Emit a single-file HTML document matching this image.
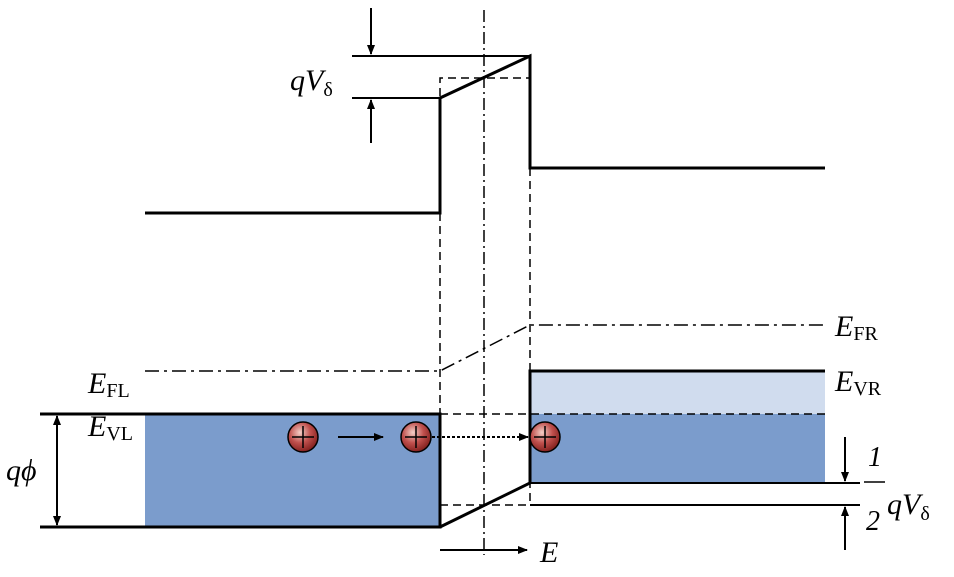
<!DOCTYPE html>
<html><head><style>body{margin:0;background:#fff}svg{display:block}text{font-family:"Liberation Serif",serif;font-style:italic}</style></head><body>
<svg width="954" height="577" viewBox="0 0 954 577" xmlns="http://www.w3.org/2000/svg">
<defs>
<marker id="a" markerWidth="10" markerHeight="8" refX="9" refY="4" orient="auto" markerUnits="userSpaceOnUse"><path d="M0,0 L10,4 L0,8 z" fill="#000"/></marker>
<radialGradient id="g" cx="0.4" cy="0.35" r="0.7"><stop offset="0" stop-color="#f4d0c8"/><stop offset="0.5" stop-color="#c0504d"/><stop offset="1" stop-color="#7a1a18"/></radialGradient>
</defs>
<!-- fills -->
<rect x="145" y="414" width="295" height="113" fill="#7b9ccc"/>
<rect x="530" y="371" width="295" height="43" fill="#d0dcee"/>
<rect x="530" y="414" width="295" height="69" fill="#7b9ccc"/>
<!-- dash-dot vertical -->
<line x1="484" y1="10" x2="484" y2="555" stroke="#000" stroke-width="1.5" stroke-dasharray="12,4,2,4"/>
<!-- dashed -->
<g stroke="#000" stroke-width="1.5" stroke-dasharray="8,5" fill="none">
<polyline points="440,213 440,78 530,78"/>
<line x1="440" y1="213" x2="440" y2="505"/>
<line x1="530" y1="168" x2="530" y2="505"/>
<line x1="440" y1="505" x2="530" y2="505"/>
<line x1="440" y1="414" x2="825" y2="414"/>
</g>
<g stroke="#000" stroke-width="1.5" stroke-dasharray="14,5,3,5" fill="none">
<polyline points="145,371 440,371 530,325 825,325"/>
</g>
<!-- solid thick -->
<g stroke="#000" stroke-width="3" fill="none">
<polyline points="145,213 440,213 440,98 530,56 530,168 825,168"/>
<polyline points="40,414 440,414 440,527 40,527"/>
<polyline points="440,527 530,483 530,371 825,371"/>
</g>
<g stroke="#000" stroke-width="2" fill="none">
<line x1="352" y1="56" x2="530" y2="56"/>
<line x1="352" y1="98" x2="440" y2="98"/>
<line x1="530" y1="483" x2="860" y2="483"/>
<line x1="530" y1="505" x2="860" y2="505"/>
<line x1="371" y1="8" x2="371" y2="54" marker-end="url(#a)"/>
<line x1="371" y1="143" x2="371" y2="100" marker-end="url(#a)"/>
<line x1="845" y1="437" x2="845" y2="481" marker-end="url(#a)"/>
<line x1="845" y1="550" x2="845" y2="507" marker-end="url(#a)"/>
<line x1="57" y1="470" x2="57" y2="416" marker-end="url(#a)"/>
<line x1="57" y1="470" x2="57" y2="525" marker-end="url(#a)"/>
<line x1="338" y1="437" x2="383" y2="437" marker-end="url(#a)"/>
<line x1="440" y1="550" x2="527" y2="550" marker-end="url(#a)"/>
<line x1="432" y1="437" x2="528" y2="437" stroke-dasharray="3,2" marker-end="url(#a)"/>
</g>
<!-- charges -->
<g stroke="#000" stroke-width="1.5">
<circle cx="303" cy="437" r="15" fill="url(#g)"/><path d="M292,437 H314 M303,426 V448"/>
<circle cx="416" cy="437" r="15" fill="url(#g)"/><path d="M405,437 H427 M416,426 V448"/>
<circle cx="545" cy="437" r="15" fill="url(#g)"/><path d="M534,437 H556 M545,426 V448"/>
</g>
<!-- labels -->
<text x="290" y="90" font-size="30">qV<tspan font-size="20" font-style="normal" dy="6">δ</tspan></text>
<text x="835" y="336" font-size="30">E<tspan font-size="20" font-style="normal" dy="4">FR</tspan></text>
<text x="835" y="391" font-size="30">E<tspan font-size="20" font-style="normal" dy="4">VR</tspan></text>
<text x="88" y="393" font-size="30">E<tspan font-size="20" font-style="normal" dy="4">FL</tspan></text>
<text x="88" y="436" font-size="30">E<tspan font-size="20" font-style="normal" dy="4">VL</tspan></text>
<text x="6" y="480" font-size="30">qϕ</text>
<text x="540" y="562" font-size="30">E</text>
<text x="868" y="466" font-size="28" font-style="normal">1</text>
<line x1="864" y1="482" x2="885" y2="482" stroke="#000" stroke-width="1.5"/>
<text x="866" y="530" font-size="28" font-style="normal">2</text>
<text x="887" y="514" font-size="30">qV<tspan font-size="20" font-style="normal" dy="6">δ</tspan></text>
</svg>
</body></html>
